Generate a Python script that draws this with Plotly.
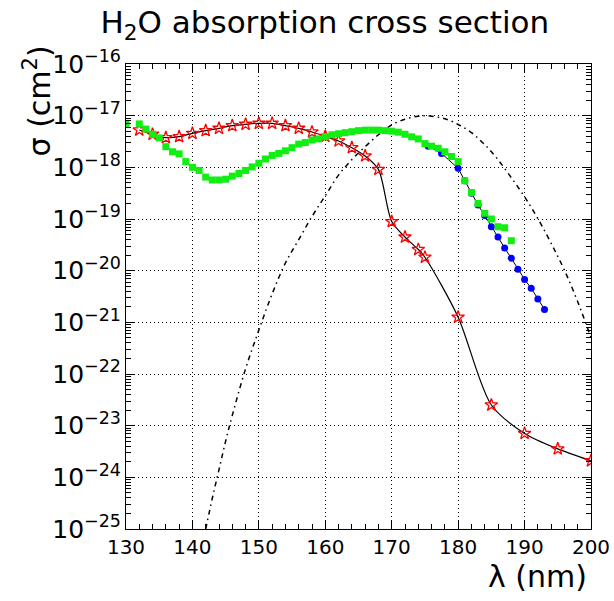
import plotly.graph_objects as go

# Green squares
green_x = [130, 132, 133, 134, 135, 136, 137, 138, 139, 140, 141, 142, 143, 144, 145, 146, 147, 148, 149,
           150, 151, 152, 153, 154, 155, 156, 157, 158, 159, 160, 161, 162, 163, 164, 165, 166, 167, 168,
           169, 170, 171, 172, 173, 174, 175, 176, 177, 178, 179, 180, 181, 182, 183, 184, 185, 186, 187, 188]
green_y = [7.08e-18, 6.92e-18, 5.50e-18, 4.37e-18, 3.72e-18, 2.51e-18, 2.00e-18, 1.82e-18, 1.29e-18, 1.00e-18,
           8.71e-19, 6.46e-19, 5.69e-19, 5.69e-19, 5.89e-19, 6.76e-19, 7.59e-19, 8.71e-19, 1.02e-18,
           1.20e-18, 1.45e-18, 1.70e-18, 1.86e-18, 2.09e-18, 2.40e-18, 2.82e-18, 3.02e-18, 3.39e-18, 3.55e-18,
           3.89e-18, 4.27e-18, 4.47e-18, 4.68e-18, 4.90e-18, 5.13e-18, 5.25e-18, 5.25e-18, 5.25e-18,
           5.13e-18, 5.01e-18, 4.79e-18, 4.37e-18, 3.89e-18, 3.55e-18, 2.88e-18, 2.57e-18, 2.34e-18, 2.00e-18,
           1.62e-18, 1.29e-18, 5.50e-19, 3.24e-19, 2.00e-19, 1.29e-19, 1.00e-19, 7.08e-20, 6.76e-20, 3.80e-20]

# Red stars (smooth black curve)
star_x = [132, 134, 136, 138, 140, 142, 144, 146, 148, 150, 152, 154, 156, 158, 160, 162, 164, 166, 168,
          170, 172, 174, 175, 180, 185, 190, 195, 200]
star_y = [5.28e-18, 4.37e-18, 3.75e-18, 3.92e-18, 4.55e-18, 5.13e-18, 5.69e-18, 6.40e-18, 6.81e-18, 7.11e-18,
          7.11e-18, 6.40e-18, 5.69e-18, 4.83e-18, 3.98e-18, 3.24e-18, 2.40e-18, 1.66e-18, 9.12e-19,
          8.91e-20, 4.47e-20, 2.57e-20, 1.82e-20, 1.26e-21, 2.51e-23, 7.08e-24, 3.55e-24, 2.09e-24]

# Blue circles
blue_x = [175.5, 177.5, 180, 181, 182, 183, 184, 185, 186, 187, 188, 189, 190, 191, 192, 193]
blue_y = [2.57e-18, 1.86e-18, 9.55e-19, 5.50e-19, 3.16e-19, 1.86e-19, 1.17e-19, 7.08e-20, 4.47e-20,
          2.75e-20, 1.74e-20, 1.07e-20, 6.76e-21, 4.57e-21, 2.82e-21, 1.78e-21]

# Dash-dot curve
curve_x = [142, 143, 144, 145, 146, 148, 150, 152, 154, 156, 158, 160, 162, 164, 166, 168, 170, 172, 174,
           175, 176, 178, 180, 182, 184, 186, 188, 190, 192, 194, 196, 198, 200]
curve_y = [1.0e-25, 3.98e-25, 1.41e-24, 5.01e-24, 1.58e-23, 1.26e-22, 7.08e-22, 3.55e-21, 1.41e-20, 3.98e-20,
           1.12e-19, 2.82e-19, 7.08e-19, 1.41e-18, 2.51e-18, 4.27e-18, 6.61e-18, 8.51e-18, 9.77e-18,
           1.0e-17, 9.77e-18, 8.71e-18, 6.76e-18, 4.68e-18, 2.75e-18, 1.41e-18, 6.31e-19, 2.69e-19,
           1.02e-19, 3.39e-20, 1.02e-20, 2.51e-21, 5.01e-22]

x_ticks = [130, 140, 150, 160, 170, 180, 190, 200]

FONT = "DejaVu Sans"
GRID_DASH = "1px,3px"

fig = go.Figure()
fig.add_trace(go.Scatter(x=curve_x, y=curve_y, mode="lines",
                         line=dict(color="black", width=1.5, dash="5px,4px,1.5px,4px", shape="spline"),
                         showlegend=False))
fig.add_trace(go.Scatter(x=star_x, y=star_y, mode="lines+markers",
                         line=dict(color="black", width=1.2, shape="spline", smoothing=0.8),
                         marker=dict(symbol="star-open", size=9.5, color="red", line=dict(color="red", width=1.3)),
                         showlegend=False))
fig.add_trace(go.Scatter(x=blue_x, y=blue_y, mode="lines+markers",
                         line=dict(color="black", width=1),
                         marker=dict(symbol="circle", size=7, color="blue"),
                         showlegend=False))
fig.add_trace(go.Scatter(x=green_x, y=green_y, mode="markers",
                         marker=dict(symbol="square", size=7, color="#11ee11"),
                         showlegend=False))

fig.update_layout(
    width=614, height=601, autosize=False,
    margin=dict(l=126, r=23, t=64, b=72),
    paper_bgcolor="white", plot_bgcolor="white",
    font=dict(family=FONT, color="black"),
    title=dict(text="H<sub>2</sub>O absorption cross section", x=0.529, y=0.963,
               xanchor="center", yanchor="middle", font=dict(size=31, family=FONT)),
    xaxis=dict(range=[130, 200], tickvals=x_ticks, ticks="inside", ticklen=9, tickcolor="black",
               showline=True, linecolor="black", linewidth=1, mirror="allticks",
               showgrid=True, gridcolor="black", griddash=GRID_DASH, gridwidth=1,
               tickfont=dict(size=20), zeroline=False, automargin=False,
               minor=dict(dtick=2, ticks="inside", ticklen=5, tickcolor="black", showgrid=False)),
    yaxis=dict(type="log", range=[-25.0001, -15.9999], dtick=1, exponentformat="power",
               ticks="inside", ticklen=9, tickcolor="black",
               showline=True, linecolor="black", linewidth=1, mirror="allticks",
               showgrid=True, gridcolor="black", griddash=GRID_DASH, gridwidth=1,
               tickfont=dict(size=20), zeroline=False, automargin=False,
               minor=dict(dtick="D1", ticks="inside", ticklen=5, tickcolor="black", showgrid=False)),
    annotations=[
        dict(text="σ (cm<sup>2</sup>)", xref="paper", yref="paper", x=-0.191, y=0.92,
             textangle=-90, showarrow=False, font=dict(size=30, family=FONT),
             xanchor="center", yanchor="middle"),
        dict(text="λ (nm)", xref="paper", yref="paper", x=0.995, y=-0.103,
             showarrow=False, font=dict(size=30, family=FONT),
             xanchor="right", yanchor="middle"),
    ],
)

fig.write_html("out.html")
